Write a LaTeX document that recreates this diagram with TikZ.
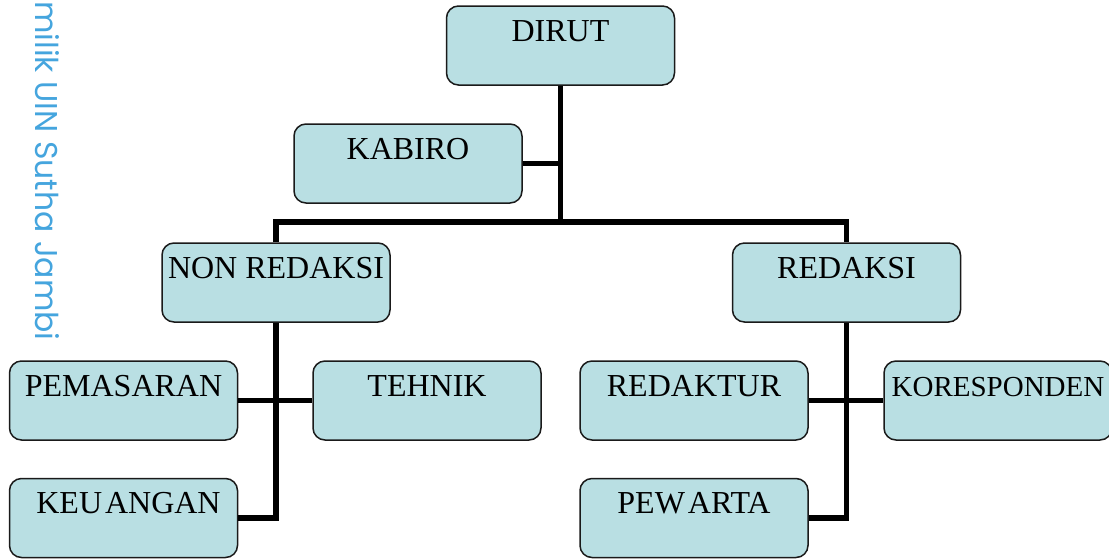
\documentclass[tikz,border=0pt]{standalone}
\usepackage{fontspec}
\setmainfont{Liberation Serif}
\newfontfamily\wmfont{Poppins}
\definecolor{boxfill}{HTML}{B9DFE3}
\definecolor{boxline}{HTML}{1A1A1A}
\definecolor{wmblue}{HTML}{45A5DE}
\begin{document}
\begin{tikzpicture}[x=1pt,y=-1pt,
  orgbox/.style={draw=boxline, line width=1.5pt, fill=boxfill, rounded corners=12pt,
    inner sep=0pt, minimum width=228pt, text height=35pt, text depth=44pt,
    font=\fontsize{32}{36}\selectfont},
  conn/.style={line width=5.5pt, line join=miter, black}]
\useasboundingbox (0,0) rectangle (1109,558);
\fill[white] (0,0) rectangle (1109,558);
\node[rotate=-90, anchor=base west, text=wmblue, font=\wmfont\fontsize{31.5}{34}\selectfont, inner sep=0pt] (wm) at (35,1) {milik UIN Sutha Jambi};
\coordinate (hub) at (560.5,222);
\node[orgbox] (dirut) at (560.5,45.5) {DIRUT};
\node[orgbox] (kabiro) at (408,163.5) {KABIRO};
\node[orgbox] (nonred) at (276,282.5) {NON REDAKSI};
\node[orgbox] (red) at (846.5,282.5) {REDAKSI};
\node[orgbox] (pem) at (123.5,400.5) {PEMASARAN};
\node[orgbox] (keu) at (123.5,518) {\kern10pt KEU\kern3pt ANGAN};
\node[orgbox] (teh) at (427,400.5) {TEHNIK};
\node[orgbox] (redak) at (694,400.5) {REDAKTUR};
\node[orgbox] (pew) at (694,518) {PEW\kern3pt ARTA};
\node[orgbox, font=\fontsize{29}{33}\selectfont] (kor) at (998,400.5) {KORESPONDEN};
\draw[conn] (dirut.south) -- (hub);
\draw[conn] (kabiro.east) -- (kabiro.east -| hub);
\draw[conn] (nonred.north) |- (hub) -| (red.north);
\draw[conn] (nonred.south) |- (keu.east);
\draw[conn] (pem.east) -- (teh.west);
\draw[conn] (red.south) |- (pew.east);
\draw[conn] (redak.east) -- (kor.west);
\end{tikzpicture}
\end{document}
